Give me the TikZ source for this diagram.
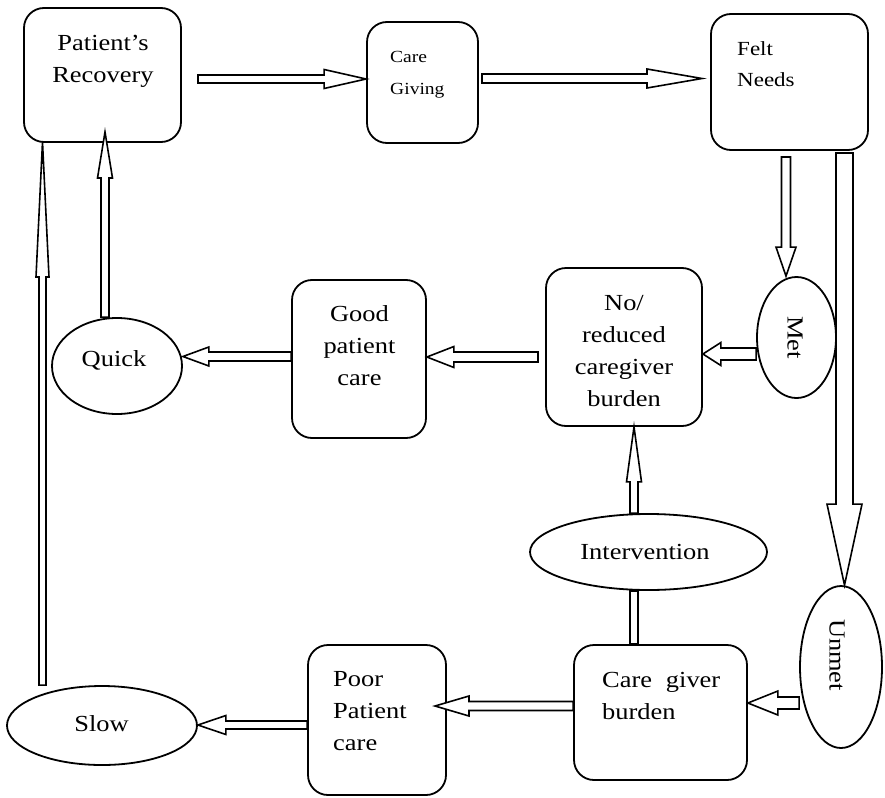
\documentclass[tikz,border=0pt]{standalone}
\usepackage{fontspec}
\setmainfont{Liberation Serif}[FakeStretch=1.15]
\usetikzlibrary{shapes.geometric,calc}
\newcommand\blockarr[5]{%
  \coordinate (hb) at ($(#2)!#5!(#1)$);
  \draw[barrow] ($(#1)!#3!90:(#2)$) -- ($(hb)!#3!-90:(#1)$) -- ($(hb)!#4!-90:(#1)$) -- (#2)
    -- ($(hb)!#4!90:(#1)$) -- ($(hb)!#3!90:(#1)$) -- ($(#1)!#3!-90:(#2)$) -- cycle;}
\newcommand\lines[2]{\begin{tabular}[t]{@{}#1@{}}#2\end{tabular}}
\begin{document}
\begin{tikzpicture}[x=1pt,y=-1pt,
  box/.style={draw,line width=1.8pt,rounded corners=20pt,inner sep=0pt},
  ell/.style={draw,ellipse,line width=1.8pt,inner sep=0pt},
  barrow/.style={draw,fill=white,line width=1.6pt,line join=miter},
  txt/.style={inner sep=0pt,font=\fontsize{23}{32}\selectfont},
  smalltxt/.style={inner sep=0pt,font=\fontsize{17}{32}\selectfont},
  midtxt/.style={inner sep=0pt,font=\fontsize{20}{31}\selectfont}]
\useasboundingbox[fill=white] (0,0) rectangle (885,797);
% boxes
\node[box,minimum width=157pt,minimum height=134pt] (pr) at (102.5,75) {};
\node[box,minimum width=111pt,minimum height=121pt] (cg) at (422.5,82.5) {};
\node[box,minimum width=157pt,minimum height=136pt] (fn) at (789.5,82) {};
\node[box,minimum width=156pt,minimum height=158pt] (nr) at (624,347) {};
\node[box,minimum width=134pt,minimum height=158pt] (gpc) at (359,359) {};
\node[box,minimum width=173pt,minimum height=135pt] (cgb) at (660.5,712.5) {};
\node[box,minimum width=138pt,minimum height=150pt] (ppc) at (377,720) {};
% ellipses
\node[ell,minimum width=79pt,minimum height=121pt] (met) at (796.5,337.5) {};
\node[ell,minimum width=82pt,minimum height=162pt] (unmet) at (841,667) {};
\node[ell,minimum width=237pt,minimum height=76pt] (interv) at (648.5,552) {};
\node[ell,minimum width=130pt,minimum height=96pt] (quick) at (117,366) {};
\node[ell,minimum width=190pt,minimum height=79pt] (slow) at (102,725.5) {};
% texts
\node[txt,anchor=base] (tpr) at (103,51) {\lines{c}{Patient's\\Recovery}};
\node[smalltxt,anchor=base west] (tcg) at (390,63) {\lines{l}{Care\\Giving}};
\node[midtxt,anchor=base west] (tfn) at (737,56) {\lines{l}{Felt\\Needs}};
\node[txt,anchor=base] (tnr) at (624,310) {\lines{c}{No/\\reduced\\caregiver\\burden}};
\node[txt,anchor=base] (tgpc) at (359.5,321) {\lines{c}{Good\\patient\\care}};
\node[txt,anchor=base] (tq) at (114,366) {Quick};
\node[txt,anchor=base] (ti) at (645,559) {Intervention};
\node[txt,anchor=base] (ts) at (101.5,731) {Slow};
\node[txt,rotate=-90] (tm) at (795,337.5) {Met};
\node[txt,rotate=-90] (tu) at (837,655) {Unmet};
\node[txt,anchor=base west] (tcgb) at (602,687) {\lines{l}{Care\hspace{0.6em}giver\\burden}};
\node[txt,anchor=base west] (tppc) at (333,686) {\lines{l}{Poor\\Patient\\care}};
% coordinates
\coordinate (p1s) at (198,79);
\coordinate (p2s) at (482,78.5);
\coordinate (p2e) at (702,78.5);
\coordinate (p3s) at (786,157);
\coordinate (p4s) at (844.5,153);
\coordinate (p5) at (0,354);
\coordinate (p6s) at (538,357);
\coordinate (p7) at (0,356.5);
\coordinate (p8x) at (105,0);
\coordinate (p8e) at (105,132);
\coordinate (p9e) at (42.5,142);
\coordinate (p10x) at (634,0);
\coordinate (p12) at (0,703);
\coordinate (p13) at (0,706);
\coordinate (p13e) at (435,706);
\coordinate (p14) at (0,725);
% arrows
\blockarr{p1s}{cg.west|-p1s}{4pt}{9.5pt}{42pt}
\blockarr{p2s}{p2e}{4.5pt}{9.5pt}{55pt}
\blockarr{p3s}{p3s|-met.north}{4.5pt}{10pt}{29pt}
\blockarr{p4s}{p4s|-unmet.north}{8.5pt}{17.5pt}{81pt}
\blockarr{met.west|-p5}{nr.east|-p5}{6pt}{11.5pt}{18pt}
\blockarr{p6s}{gpc.east|-p6s}{5pt}{10.5pt}{27pt}
\blockarr{gpc.west|-p7}{quick.east|-p7}{4.5pt}{9.5pt}{26pt}
\blockarr{p8x|-quick.north}{p8e}{4pt}{7.5pt}{46pt}
\blockarr{p9e|-slow.north}{p9e}{3.5pt}{6.5pt}{135pt}
\blockarr{p10x|-interv.north}{p10x|-nr.south}{4pt}{7.5pt}{55pt}
\draw[barrow] ($(p10x|-interv.south)+(-4,0)$) rectangle ($(p10x|-cgb.north)+(4,0)$);
\blockarr{unmet.west|-p12}{cgb.east|-p12}{6pt}{12pt}{30pt}
\blockarr{cgb.west|-p13}{p13e}{4.5pt}{10pt}{34pt}
\blockarr{ppc.west|-p14}{slow.east|-p14}{4pt}{9.5pt}{28pt}
\end{tikzpicture}
\end{document}
